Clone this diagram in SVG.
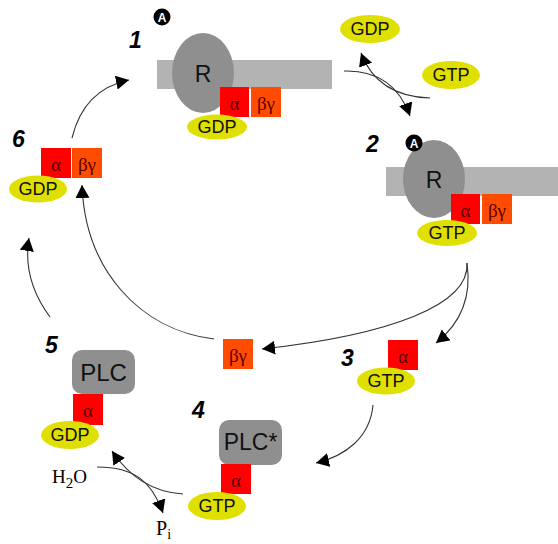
<svg xmlns="http://www.w3.org/2000/svg" width="558" height="544" viewBox="0 0 558 544">
<defs>
<style>
.bar{fill:#b3b3b3}
.rec{fill:#8f8f8f}
.plc{fill:#8f8f8f}
.a{fill:#ff0000}
.bg{fill:#ff4c00}
.nuc{fill:#e0e000}
.t{font-family:"Liberation Sans",Arial,sans-serif;fill:#111;text-anchor:middle}
.g{font-family:"Liberation Serif","Times New Roman",serif;font-size:19px;fill:#5a0000;text-anchor:middle}
.num{font-family:"Liberation Sans",Arial,sans-serif;font-size:23px;font-weight:bold;font-style:italic;fill:#000}
.chem{font-family:"Liberation Serif","Times New Roman",serif;fill:#000}
.ac{fill:#000}
.act{font-family:"Liberation Sans",Arial,sans-serif;font-size:12px;font-weight:bold;fill:#fff;text-anchor:middle}
.c{fill:none;stroke:#333;stroke-width:1.1;marker-end:url(#ah)}
</style>
<marker id="ah" markerUnits="userSpaceOnUse" markerWidth="15" markerHeight="15" refX="13" refY="7" orient="auto">
<path d="M0,0 L13,7 L0,14 z" fill="#000"/>
</marker>
</defs>

<g id="connectors">
<path class="c" d="M344,71 C380,70 400,88 410,116"/>
<path class="c" d="M430,98 C395,97 372,82 361,53"/>
<path class="c" d="M467,263 C470,305 390,335 262,349"/>
<path class="c" d="M467,263 C472,298 460,324 436,343"/>
<path class="c" d="M373,405 C370,438 345,456 316,463"/>
<path class="c" d="M97,467 C135,467 152,482 163,513"/>
<path class="c" d="M183,494 C150,492 128,475 112,451"/>
<path class="c" d="M50,317 C30,290 25,262 29,238"/>
<path class="c" d="M214,339 C140,330 85,270 82,185"/>
<path class="c" d="M72,138 C80,105 100,86 129,80"/>
</g>

<g id="stage1">
<rect class="bar" x="157" y="60" width="175" height="29"/>
<ellipse class="rec" cx="203" cy="73" rx="31" ry="40"/>
<text class="t" x="203" y="82" font-size="23">R</text>
<rect class="a" x="220" y="87" width="29" height="30"/>
<text class="g" x="234.5" y="110">α</text>
<rect class="bg" x="251" y="87" width="30" height="30"/>
<text class="g" x="266" y="110">βγ</text>
<ellipse class="nuc" cx="217" cy="127" rx="30" ry="12.5"/>
<text class="t" x="217" y="133" font-size="18">GDP</text>
<text class="num" x="129" y="48">1</text>
<circle class="ac" cx="162" cy="17" r="8.5"/>
<text class="act" x="162" y="22">A</text>
</g>

<g id="exchange1">
<ellipse class="nuc" cx="370" cy="29" rx="30" ry="14"/>
<text class="t" x="370" y="35" font-size="18">GDP</text>
<ellipse class="nuc" cx="451" cy="75" rx="29" ry="14"/>
<text class="t" x="451" y="81" font-size="18">GTP</text>
</g>

<g id="stage2">
<rect class="bar" x="386" y="167" width="172" height="29"/>
<ellipse class="rec" cx="434" cy="179" rx="31" ry="39"/>
<text class="t" x="434" y="188" font-size="23">R</text>
<rect class="a" x="451" y="194" width="29" height="30"/>
<text class="g" x="465.5" y="217">α</text>
<rect class="bg" x="482" y="194" width="30" height="30"/>
<text class="g" x="497" y="217">βγ</text>
<ellipse class="nuc" cx="447" cy="233" rx="30" ry="13"/>
<text class="t" x="447" y="239" font-size="18">GTP</text>
<text class="num" x="366" y="152">2</text>
<circle class="ac" cx="414" cy="143" r="8.5"/>
<text class="act" x="414" y="148">A</text>
</g>

<g id="stage3">
<rect class="a" x="388" y="340" width="30" height="30"/>
<text class="g" x="403" y="363">α</text>
<ellipse class="nuc" cx="386" cy="381" rx="29" ry="13.5"/>
<text class="t" x="386" y="387" font-size="18">GTP</text>
<text class="num" x="341" y="366">3</text>
</g>

<g id="betagamma">
<rect class="bg" x="223" y="339" width="30" height="30"/>
<text class="g" x="238" y="362">βγ</text>
</g>

<g id="stage4">
<rect class="plc" x="219" y="420" width="63" height="45" rx="10"/>
<text class="t" x="250.5" y="450" font-size="23">PLC*</text>
<rect class="a" x="221" y="464" width="30" height="30"/>
<text class="g" x="236" y="487">α</text>
<ellipse class="nuc" cx="217" cy="506" rx="29" ry="14"/>
<text class="t" x="217" y="512" font-size="18">GTP</text>
<text class="num" x="192" y="418">4</text>
</g>

<g id="stage5">
<rect class="plc" x="72" y="350" width="63" height="44" rx="10"/>
<text class="t" x="103.5" y="381" font-size="24">PLC</text>
<rect class="a" x="73" y="394" width="30" height="31"/>
<text class="g" x="88" y="417">α</text>
<ellipse class="nuc" cx="70" cy="435" rx="29" ry="14"/>
<text class="t" x="70" y="441" font-size="18">GDP</text>
<text class="num" x="45" y="353">5</text>
<text class="chem" x="52" y="483" font-size="19">H<tspan font-size="15" dy="5">2</tspan><tspan dy="-5">O</tspan></text>
<text class="chem" x="156" y="535" font-size="20">P<tspan font-size="14" dy="4">i</tspan></text>
</g>

<g id="stage6">
<rect class="a" x="41" y="148" width="30" height="30"/>
<text class="g" x="56" y="171">α</text>
<rect class="bg" x="72" y="148" width="30" height="30"/>
<text class="g" x="87" y="171">βγ</text>
<ellipse class="nuc" cx="38" cy="189" rx="29" ry="13.5"/>
<text class="t" x="38" y="195" font-size="18">GDP</text>
<text class="num" x="12" y="147">6</text>
</g>
</svg>
